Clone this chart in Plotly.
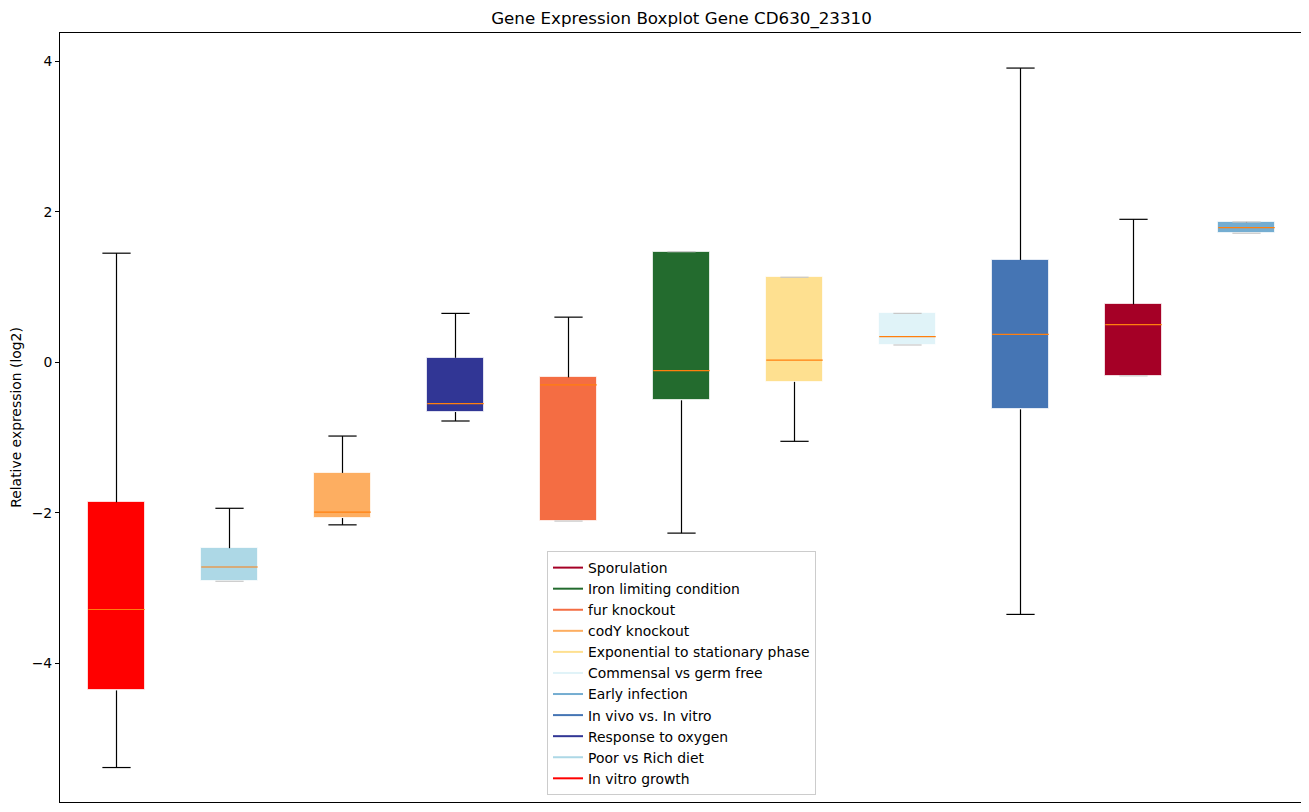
import plotly.graph_objects as go

categories = ["In vitro growth", "Poor vs Rich diet", "codY knockout", "Response to oxygen",
              "fur knockout", "Iron limiting condition", "Exponential to stationary phase",
              "Commensal vs germ free", "In vivo vs. In vitro", "Sporulation", "Early infection"]
positions = [1, 2, 3, 4, 5, 6, 7, 8, 9, 10, 11]
lower_whisker = [-5.385, -2.91, -2.16, -0.78, -2.11, -2.27, -1.05, 0.23, -3.35, -0.18, 1.715]
q1 = [-4.36, -2.91, -2.07, -0.66, -2.11, -0.505, -0.26, 0.23, -0.625, -0.18, 1.715]
median = [-3.285, -2.72, -1.99, -0.55, -0.30, -0.11, 0.03, 0.34, 0.37, 0.50, 1.79]
q3 = [-1.86, -2.47, -1.47, 0.06, -0.20, 1.47, 1.13, 0.65, 1.36, 0.77, 1.86]
upper_whisker = [1.45, -1.94, -0.98, 0.65, 0.60, 1.47, 1.13, 0.65, 3.91, 1.90, 1.865]
colors = ["#ff0000", "#add8e6", "#fdae61", "#313695", "#f46d43", "#236b2e", "#fee090",
          "#e0f3f8", "#4575b4", "#a50026", "#74add1"]
legend_order = ["Sporulation", "Iron limiting condition", "fur knockout", "codY knockout",
                "Exponential to stationary phase", "Commensal vs germ free", "Early infection",
                "In vivo vs. In vitro", "Response to oxygen", "Poor vs Rich diet", "In vitro growth"]

BOX_W = 0.5
CAP_W = 0.25

fig = go.Figure()

# whiskers (vertical)
wx, wy = [], []
for p, lo, a, b, hi in zip(positions, lower_whisker, q1, q3, upper_whisker):
    wx += [p, p, None, p, p, None]
    wy += [lo, a, None, b, hi, None]
fig.add_trace(go.Scatter(x=wx, y=wy, mode="lines", line=dict(color="black", width=1.2),
                         showlegend=False, hoverinfo="skip"))

# caps
cx, cy, gx, gy = [], [], [], []
for p, lo, a, b, hi in zip(positions, lower_whisker, q1, q3, upper_whisker):
    for fence, edge in ((lo, a), (hi, b)):
        if abs(fence - edge) < 0.02:
            gx += [p - CAP_W / 2, p + CAP_W / 2, None]
            gy += [fence, fence, None]
        else:
            cx += [p - CAP_W / 2, p + CAP_W / 2, None]
            cy += [fence, fence, None]
fig.add_trace(go.Bar(x=positions, base=q1, y=[b - a for a, b in zip(q1, q3)], width=BOX_W,
                     marker=dict(color=colors, line=dict(color="rgba(255,255,255,0.7)", width=1)),
                     showlegend=False, hoverinfo="skip"))
fig.add_trace(go.Scatter(x=gx, y=gy, mode="lines", line=dict(color="#c8c8c8", width=1.2),
                         showlegend=False, hoverinfo="skip"))
fig.add_trace(go.Scatter(x=cx, y=cy, mode="lines", line=dict(color="black", width=1.2),
                         showlegend=False, hoverinfo="skip"))

# medians
mx, my = [], []
for p, m in zip(positions, median):
    mx += [p - BOX_W / 2, p + BOX_W / 2, None]
    my += [m, m, None]
fig.add_trace(go.Scatter(x=mx, y=my, mode="lines", line=dict(color="#ff7f0e", width=1.2),
                         showlegend=False, hoverinfo="skip"))

# legend entries
cmap = dict(zip(categories, colors))
for name in legend_order:
    fig.add_trace(go.Scatter(x=[None], y=[None], mode="lines", name=name,
                             line=dict(color=cmap[name], width=2)))

fig.update_layout(
    width=1309, height=812,
    margin=dict(l=52, r=14, t=25, b=18, autoexpand=False),
    plot_bgcolor="white", paper_bgcolor="white",
    font=dict(family="DejaVu Sans", size=13.9, color="black"),
    title=dict(text="Gene Expression Boxplot Gene CD630_23310", x=0.5, xref="paper",
               xanchor="center", y=1 - 10 / 812, yanchor="middle", font=dict(size=16.7)),
    showlegend=True,
    legend=dict(x=0.5, xanchor="center", y=0.009, yanchor="bottom", bgcolor="white",
                bordercolor="#cccccc", borderwidth=1, font=dict(size=13.9), itemwidth=30,
                tracegroupgap=0),
    bargap=0,
)
fig.update_xaxes(range=[0.5, 11.5], showticklabels=False, ticks="", showgrid=False,
                 zeroline=False, showline=True, linecolor="black", linewidth=1, mirror=True,
                 automargin=False)
fig.update_yaxes(range=[-5.843, 4.376], tickvals=[-4, -2, 0, 2, 4], ticks="outside", ticklen=4,
                 tickcolor="black", showgrid=False, zeroline=False, showline=True,
                 linecolor="black", linewidth=1, mirror=True, automargin=False,
                 title=dict(text="Relative expression (log2)", standoff=8, font=dict(size=13.9)))

fig.write_html("out.html")
